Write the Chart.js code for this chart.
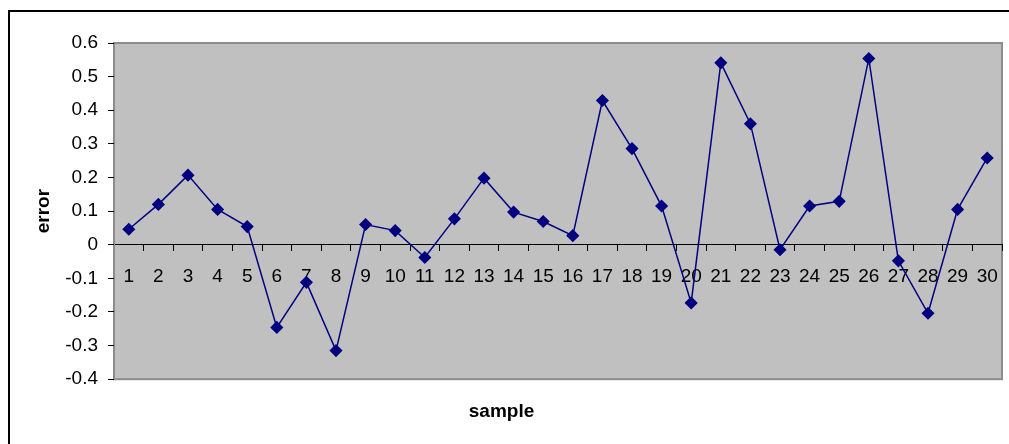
<!DOCTYPE html>
<html>
<head>
<meta charset="utf-8">
<script src="https://cdn.jsdelivr.net/npm/chart.js@4"></script>
<style>
  html, body { margin: 0; padding: 0; background: #fff; overflow: hidden; }
  #myChart { display: block; }
</style>
</head>
<body>
<canvas id="myChart" width="1009" height="444"></canvas>
<script>
// sample numbers 1..30
var samples = ['1','2','3','4','5','6','7','8','9','10','11','12','13','14','15',
               '16','17','18','19','20','21','22','23','24','25','26','27','28','29','30'];
// error per sample
var errors = [0.046, 0.120, 0.207, 0.105, 0.054, -0.246, -0.112, -0.315, 0.060, 0.042,
              -0.038, 0.077, 0.198, 0.097, 0.069, 0.027, 0.429, 0.286, 0.115, -0.173,
              0.541, 0.360, -0.015, 0.115, 0.129, 0.554, -0.048, -0.204, 0.105, 0.258];
var yMin = -0.4, yMax = 0.6, yStep = 0.1;

var plotBg = {
    id: 'plotBg',
    beforeDraw: function(chart){
        var a = chart.chartArea, c = chart.ctx;
        c.save();
        // outer frame (only left and top edges are in view)
        c.strokeStyle = '#000';
        c.lineWidth = 2;
        c.beginPath();
        c.moveTo(9, chart.height);
        c.lineTo(9, 11);
        c.lineTo(chart.width, 11);
        c.stroke();
        // grey plot area
        c.fillStyle = '#c0c0c0';
        c.fillRect(a.left, a.top, a.right - a.left, a.bottom - a.top);
        c.strokeStyle = '#8c8c8c';
        c.strokeRect(a.left, a.top, a.right - a.left, a.bottom - a.top);
        c.restore();
    }
};

var ctx = document.getElementById('myChart');
var chart = new Chart(ctx, {
    type: 'line',
    data: {
        labels: samples,
        datasets: [{
            label: 'error',
            data: errors,
            borderColor: '#000080',
            backgroundColor: '#000080',
            borderWidth: 1.5,
            pointStyle: 'rectRot',
            pointRadius: 5.5,
            pointHoverRadius: 5.5,
            tension: 0
        }]
    },
    options: {
        responsive: false,
        animation: false,
        layout: { padding: { top: 43, right: 6, bottom: 0, left: 0 } },
        plugins: {
            legend: { display: false },
            tooltip: { enabled: false },
            title: {
                display: true,
                position: 'bottom',
                text: 'sample',
                color: '#000',
                font: { family: 'Liberation Sans', size: 19, weight: 'bold' },
                padding: { top: 21, bottom: 21 }
            }
        },
        scales: {
            x: {
                type: 'category',
                position: { y: 0 },
                offset: true,
                grid: { offset: true, drawOnChartArea: false, drawTicks: true, tickLength: 6, color: '#000', tickColor: '#000' },
                border: { display: true, color: '#000', width: 1 },
                ticks: {
                    autoSkip: false, maxRotation: 0, color: '#000', padding: 15,
                    font: { family: 'Liberation Sans', size: 19 }
                },
                afterFit: function(scale){ scale.paddingLeft = 0; scale.paddingRight = 0; }
            },
            y: {
                min: yMin,
                max: yMax,
                grid: { drawOnChartArea: false, drawTicks: true, tickLength: 6, tickColor: '#000' },
                border: { display: true, color: '#8c8c8c', width: 1 },
                ticks: {
                    stepSize: yStep, color: '#000', padding: 10,
                    font: { family: 'Liberation Sans', size: 19 },
                    callback: function(v){ return String(Math.round(v * 10) / 10); }
                },
                title: {
                    display: true,
                    text: 'error',
                    color: '#000',
                    font: { family: 'Liberation Sans', size: 19, weight: 'bold' },
                    padding: { top: 32, bottom: 0 }
                },
                afterFit: function(scale){ scale.width = 114; }
            }
        }
    },
    plugins: [plotBg]
});
</script>
</body>
</html>
